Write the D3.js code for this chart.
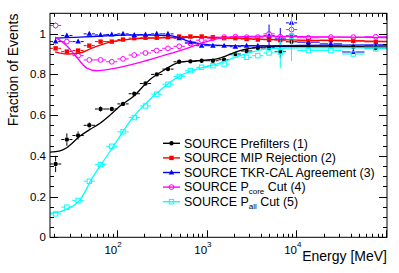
<!DOCTYPE html>
<html>
<head>
<meta charset="utf-8">
<script src="https://cdn.jsdelivr.net/npm/d3@7"></script>
<style>
body{margin:0;background:#fff;}
svg{display:block;font-family:"Liberation Sans",Arial,Helvetica,sans-serif;}
</style>
</head>
<body>
<svg id="chart"></svg>
<script>
// energy bin edges [MeV]
var binEdges=[18.09,24.13,32.17,42.90,57.21,76.30,101.7,135.7,180.9,241.3,321.7,429.0,572.1,763.0,1017,1357,1809,2413,3217,4290,5721,7630,10174,18093,32174,57214,101742];

// efficiencies per bin
var prefilters=[0.36,0.48,0.50,0.55,0.63,0.63,0.655,0.705,0.755,0.80,0.826,0.862,0.864,0.867,0.867,0.872,0.90,0.915,0.93,0.93,0.912,0.96,0.94,0.94,0.936,0.93];
var prefiltersErr=[0.04,0.03,0.02,0.015,0.015,0.012,0.012,0.01,0.01,0.008,0.008,0.008,0.006,0.006,0.006,0.006,0.008,0.008,0.01,0.015,0.03,0.03,0.012,0.012,0.015,0.015];
var mipRej=[0.928,0.912,0.917,0.941,0.961,0.961,0.971,0.978,0.98,0.98,0.983,0.986,0.986,0.986,0.983,0.978,0.978,0.974,0.971,0.97,0.968,0.99,0.965,0.968,0.965,0.96];
var mipRejErr=[0.012,0.01,0.008,0.006,0.005,0.005,0.005,0.004,0.004,0.004,0.004,0.004,0.004,0.004,0.004,0.004,0.005,0.005,0.006,0.01,0.012,0.02,0.008,0.008,0.01,0.01];
var tkrCal=[0.961,0.991,0.961,0.999,0.994,0.996,0.999,0.994,0.996,0.999,0.999,0.978,0.958,0.941,0.941,0.941,0.936,0.941,0.941,0.99,0.978,1.053,0.958,0.95,0.91,0.94];
var tkrCalErr=[0.015,0.012,0.01,0.008,0.006,0.005,0.005,0.004,0.004,0.004,0.004,0.004,0.004,0.004,0.004,0.005,0.005,0.006,0.008,0.055,0.05,0.05,0.01,0.01,0.012,0.012];
var pCore=[1.04,0.961,0.892,0.871,0.871,0.862,0.876,0.895,0.905,0.917,0.928,0.938,0.952,0.968,0.978,0.983,0.985,0.983,0.983,0.999,0.985,1.02,0.98,0.983,0.983,0.985];
var pCoreErr=[0.015,0.012,0.01,0.008,0.006,0.006,0.005,0.005,0.005,0.004,0.004,0.004,0.004,0.004,0.004,0.004,0.005,0.005,0.006,0.01,0.012,0.03,0.008,0.008,0.01,0.01];
var pAll=[0.115,0.148,0.181,0.275,0.357,0.447,0.518,0.588,0.645,0.703,0.752,0.79,0.818,0.835,0.843,0.851,0.895,0.884,0.892,0.905,0.91,0.986,0.917,0.917,0.90,0.925];
var pAllErr=[0.008,0.008,0.008,0.008,0.008,0.008,0.008,0.008,0.008,0.007,0.007,0.006,0.006,0.006,0.006,0.006,0.006,0.007,0.008,0.012,0.08,0.12,0.01,0.01,0.012,0.012];

// fitted curves: [energy, fraction]
var prefiltersFit=[[18.1,0.418],[23.4,0.425],[27.8,0.44],[39,0.497],[50.5,0.53],[65.2,0.56],[84.2,0.60],[108.8,0.645],[151.8,0.69],[234.7,0.775],[327.4,0.818],[506.2,0.86],[776.5,0.867],[1296,0.876],[1675,0.892],[2355,0.917],[3044,0.928],[4828,0.936],[10950,0.936],[30500,0.935],[101700,0.934]];
var mipRejFit=[[20.6,0.91],[27.8,0.90],[39,0.905],[50.5,0.925],[84.2,0.958],[151.8,0.974],[327.4,0.98],[776.5,0.982],[1675,0.978],[4828,0.972],[10950,0.968],[101700,0.962]];
var tkrCalFit=[[20.6,0.978],[39,0.983],[84.2,0.99],[151.8,0.994],[392,0.99],[654,0.961],[1091,0.945],[2355,0.94],[10950,0.942],[101700,0.945]];
var pCoreFit=[[20.6,0.983],[27.8,0.941],[35.9,0.884],[46.4,0.831],[59.9,0.818],[84.2,0.826],[181.7,0.859],[327.4,0.892],[654,0.933],[1091,0.966],[1823,0.983],[4828,0.988],[10950,0.985],[101700,0.98]];
var pAllFit=[[18.1,0.118],[23.4,0.125],[27.8,0.138],[39,0.184],[54.9,0.30],[77.4,0.398],[108.8,0.497],[140.6,0.571],[215.8,0.662],[329.9,0.736],[506.2,0.793],[776.5,0.826],[1296,0.851],[2355,0.892],[4828,0.925],[10950,0.93],[101700,0.93]];

var seriesNames=["SOURCE Prefilters (1)","SOURCE MIP Rejection (2)","SOURCE TKR-CAL Agreement (3)","SOURCE P|core| Cut (4)","SOURCE P|all| Cut (5)"];
var yTickLabels=["0","0.2","0.4","0.6","0.8","1"];
var xTickExps=[2,3,4];

var width=399,height=273;
var svg=d3.select("#chart").attr("width",width).attr("height",height);

var x=d3.scaleLog().domain([binEdges[0],binEdges[binEdges.length-1]]).range([50,387]);
var y=d3.scaleLinear().domain([0,1.1]).range([237.3,13.3]);

var series=[
  {vals:prefilters,errs:prefiltersErr,fit:prefiltersFit,color:"#000000",marker:"circle",fill:true},
  {vals:mipRej,errs:mipRejErr,fit:mipRejFit,color:"#ff0000",marker:"square",fill:true},
  {vals:tkrCal,errs:tkrCalErr,fit:tkrCalFit,color:"#0000ff",marker:"triangle",fill:true},
  {vals:pCore,errs:pCoreErr,fit:pCoreFit,color:"#ff00ff",marker:"circle",fill:false},
  {vals:pAll,errs:pAllErr,fit:pAllFit,color:"#00ffff",marker:"square",fill:false}
];

svg.append("defs").append("clipPath").attr("id","plotclip")
   .append("rect").attr("x",50).attr("y",13.3).attr("width",337).attr("height",224);

function drawMarker(g,type,cx,cy,color,filled){
    var m;
    if(type=="circle"){
        m=g.append("circle").attr("cx",cx).attr("cy",cy).attr("r",filled?2.2:2.4);
    }else if(type=="square"){
        m=g.append("rect").attr("x",cx-2.2).attr("y",cy-2.2).attr("width",4.4).attr("height",4.4);
    }else{
        m=g.append("path").attr("d","M"+cx+","+(cy-3)+"L"+(cx+2.8)+","+(cy+2)+"L"+(cx-2.8)+","+(cy+2)+"Z");
    }
    if(filled) m.attr("fill",color).attr("stroke","none");
    else m.attr("fill","none").attr("stroke",color).attr("stroke-width",1);
}

var plot=svg.append("g").attr("clip-path","url(#plotclip)");

// points with error bars
series.forEach(function(s){
    var g=plot.append("g");
    s.vals.forEach(function(v,i){
        var lo=binEdges[i],hi=binEdges[i+1];
        var cx=x(Math.sqrt(lo*hi)),cy=y(v);
        var gap=2.6;
        g.append("line").attr("x1",x(lo)).attr("x2",cx-gap).attr("y1",cy).attr("y2",cy)
         .attr("stroke",s.color).attr("stroke-width",1);
        g.append("line").attr("x1",cx+gap).attr("x2",x(hi)).attr("y1",cy).attr("y2",cy)
         .attr("stroke",s.color).attr("stroke-width",1);
        var ylo=y(v-s.errs[i]),yhi=y(v+s.errs[i]);
        if(ylo-cy>gap){
            g.append("line").attr("x1",cx).attr("x2",cx).attr("y1",cy+gap).attr("y2",ylo)
             .attr("stroke",s.color).attr("stroke-width",1);
            g.append("line").attr("x1",cx).attr("x2",cx).attr("y1",cy-gap).attr("y2",yhi)
             .attr("stroke",s.color).attr("stroke-width",1);
        }
        drawMarker(g,s.marker,cx,cy,s.color,s.fill);
    });
});

// fit curves
var line=d3.line().x(d=>x(d[0])).y(d=>y(d[1])).curve(d3.curveMonotoneX);
series.forEach(function(s){
    plot.append("path").attr("d",line(s.fit)).attr("fill","none")
        .attr("stroke",s.color).attr("stroke-width",1.3);
});

// frame and ticks
var axes=svg.append("g").attr("stroke","#000").attr("stroke-width",1);
axes.append("rect").attr("x",50).attr("y",13.3).attr("width",337).attr("height",224).attr("fill","none");

x.ticks().forEach(function(t){
    var major=Math.abs(Math.log10(t)-Math.round(Math.log10(t)))<1e-6;
    var len=major?7:3.5;
    var px=Math.round(x(t))+0.5;
    axes.append("line").attr("x1",px).attr("x2",px).attr("y1",237.3).attr("y2",237.3-len);
    axes.append("line").attr("x1",px).attr("x2",px).attr("y1",13.3).attr("y2",13.3+len);
});
d3.range(0,1.1001,0.05).forEach(function(t,i){
    var major=i%4==0;
    var len=major?8:4;
    var py=Math.round(y(t))+0.5;
    axes.append("line").attr("x1",50).attr("x2",50+len).attr("y1",py).attr("y2",py);
    axes.append("line").attr("x1",387).attr("x2",387-len).attr("y1",py).attr("y2",py);
});

// tick labels
yTickLabels.forEach(function(lab,i){
    svg.append("text").attr("x",46).attr("y",y(i*0.2)+1).attr("text-anchor","end")
       .attr("dominant-baseline","middle").attr("font-size",11.5).text(lab);
});
xTickExps.forEach(function(e){
    var px=x(Math.pow(10,e));
    svg.append("text").attr("x",px+0.5).attr("y",254).attr("text-anchor","end")
       .attr("font-size",11.5).text("10");
    svg.append("text").attr("x",px+0.5).attr("y",247).attr("font-size",8).text(e);
});

// axis titles
svg.append("text").attr("x",387).attr("y",261).attr("text-anchor","end")
   .attr("font-size",14).text("Energy [MeV]");
svg.append("text").attr("transform","translate(18,13.5) rotate(-90)").attr("text-anchor","end")
   .attr("font-size",14).text("Fraction of Events");

// legend
var leg=svg.append("g");
seriesNames.forEach(function(name,i){
    var s=series[i];
    var ly=143.3+i*14.6;
    leg.append("line").attr("x1",163).attr("x2",180).attr("y1",ly).attr("y2",ly)
       .attr("stroke",s.color).attr("stroke-width",1.4);
    drawMarker(leg,s.marker,171.5,ly,s.color,s.fill);
    var parts=name.split("|");
    var t=leg.append("text").attr("x",184).attr("y",ly+4.3).attr("font-size",12.4);
    t.append("tspan").text(parts[0]);
    if(parts.length>1){
        t.append("tspan").attr("font-size",8).attr("dy",3).text(parts[1]);
        t.append("tspan").attr("dy",-3).text(parts[2]);
    }
});
</script>
</body>
</html>
